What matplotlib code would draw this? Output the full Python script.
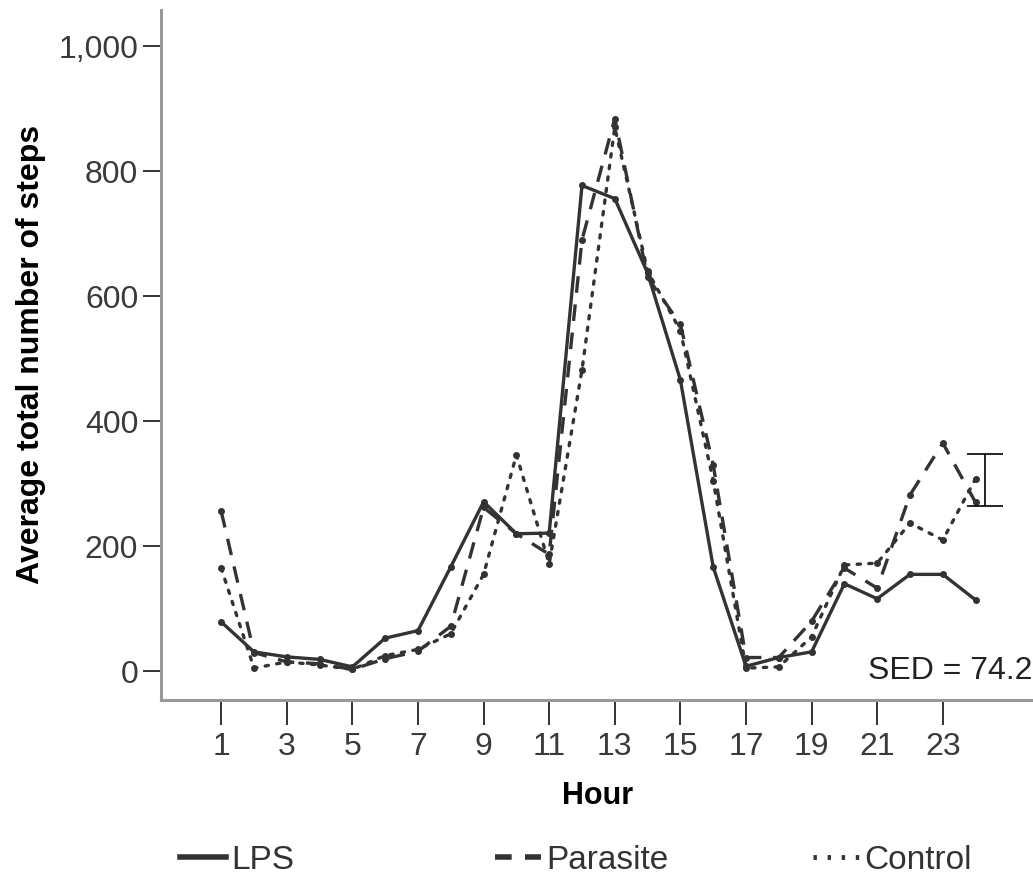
import matplotlib.pyplot as plt

plt.rcParams['font.family'] = ['Liberation Sans', 'DejaVu Sans']

hours = list(range(1, 25))
lps = [79, 31, 23, 19, 7, 53, 65, 167, 271, 220, 221, 777,
       756, 637, 466, 167, 8, 22, 31, 140, 116, 155, 155, 114]
parasite = [256, 30, 15, 12, 3, 20, 32, 72, 262, 220, 187, 690,
            884, 630, 555, 330, 22, 22, 80, 165, 133, 282, 365, 270]
control = [165, 5, 15, 10, 3, 25, 35, 60, 155, 346, 172, 482,
           870, 640, 545, 305, 5, 7, 55, 170, 173, 237, 210, 308]
xtick_labels = [1, 3, 5, 7, 9, 11, 13, 15, 17, 19, 21, 23]
ytick_values = [0, 200, 400, 600, 800, 1000]
sed_value = 74.2
sed_low, sed_high = 264, 347

fig = plt.figure(figsize=(10.33, 8.77), dpi=100)
ax = fig.add_axes([0.156, 0.2018, 0.844, 0.787])

c = '#333333'
dash = (0, (5, 3.5))
dot = (0, (1, 2.5))
ax.plot(hours, lps, color=c, lw=2.4, marker='o', ms=4, solid_joinstyle='round')
ax.plot(hours, parasite, color=c, lw=2.4, marker='o', ms=4, linestyle=dash)
ax.plot(hours, control, color=c, lw=2.4, marker='o', ms=4,
        linestyle=dot, dash_capstyle='round')

# SED bar
mid = (sed_low + sed_high) / 2
ax.errorbar([24.3], [mid], yerr=[(sed_high - sed_low) / 2], color='black',
            lw=1.2, capsize=13, capthick=1.2, fmt='none')
ax.text(25.72, 0, 'SED = %.1f' % sed_value, ha='right', va='center',
        fontsize=23, color='#222222')

ax.set_xlim(-0.83, 25.75)
ax.set_ylim(-46, 1058)
ax.set_xticks(xtick_labels)
ax.set_xticklabels([str(v) for v in xtick_labels])
ax.set_yticks(ytick_values)
ax.set_yticklabels(['{:,}'.format(v) for v in ytick_values])
ax.tick_params(axis='both', labelsize=23, colors='#333333', width=1.4,
               length=13, labelcolor='#3a3a3a')
ax.tick_params(axis='x', length=18, pad=5)

for s in ['top', 'right']:
    ax.spines[s].set_visible(False)
for s in ['left', 'bottom']:
    ax.spines[s].set_color('#999999')
    ax.spines[s].set_linewidth(2.2)

ax.set_xlabel('Hour', fontsize=22, fontweight='bold', labelpad=14)
ax.set_ylabel('Average total number of steps', fontsize=23, fontweight='bold', labelpad=9)

for lab, ls, lw, x0 in [('LPS', '-', 4, 0.174), ('Parasite', (0, (3, 2.4)), 4, 0.479),
                        ('Control', (0, (0.7, 2.2)), 3.5, 0.787)]:
    fig.legend([plt.Line2D([], [], color=c, lw=lw, linestyle=ls)],
               [lab], loc='center left', bbox_to_anchor=(x0, 0.019),
               frameon=False, fontsize=24, handlelength=1.4, handletextpad=0.15,
               borderpad=0, borderaxespad=0, labelcolor='#333333')

plt.savefig('out.png', dpi=100)
